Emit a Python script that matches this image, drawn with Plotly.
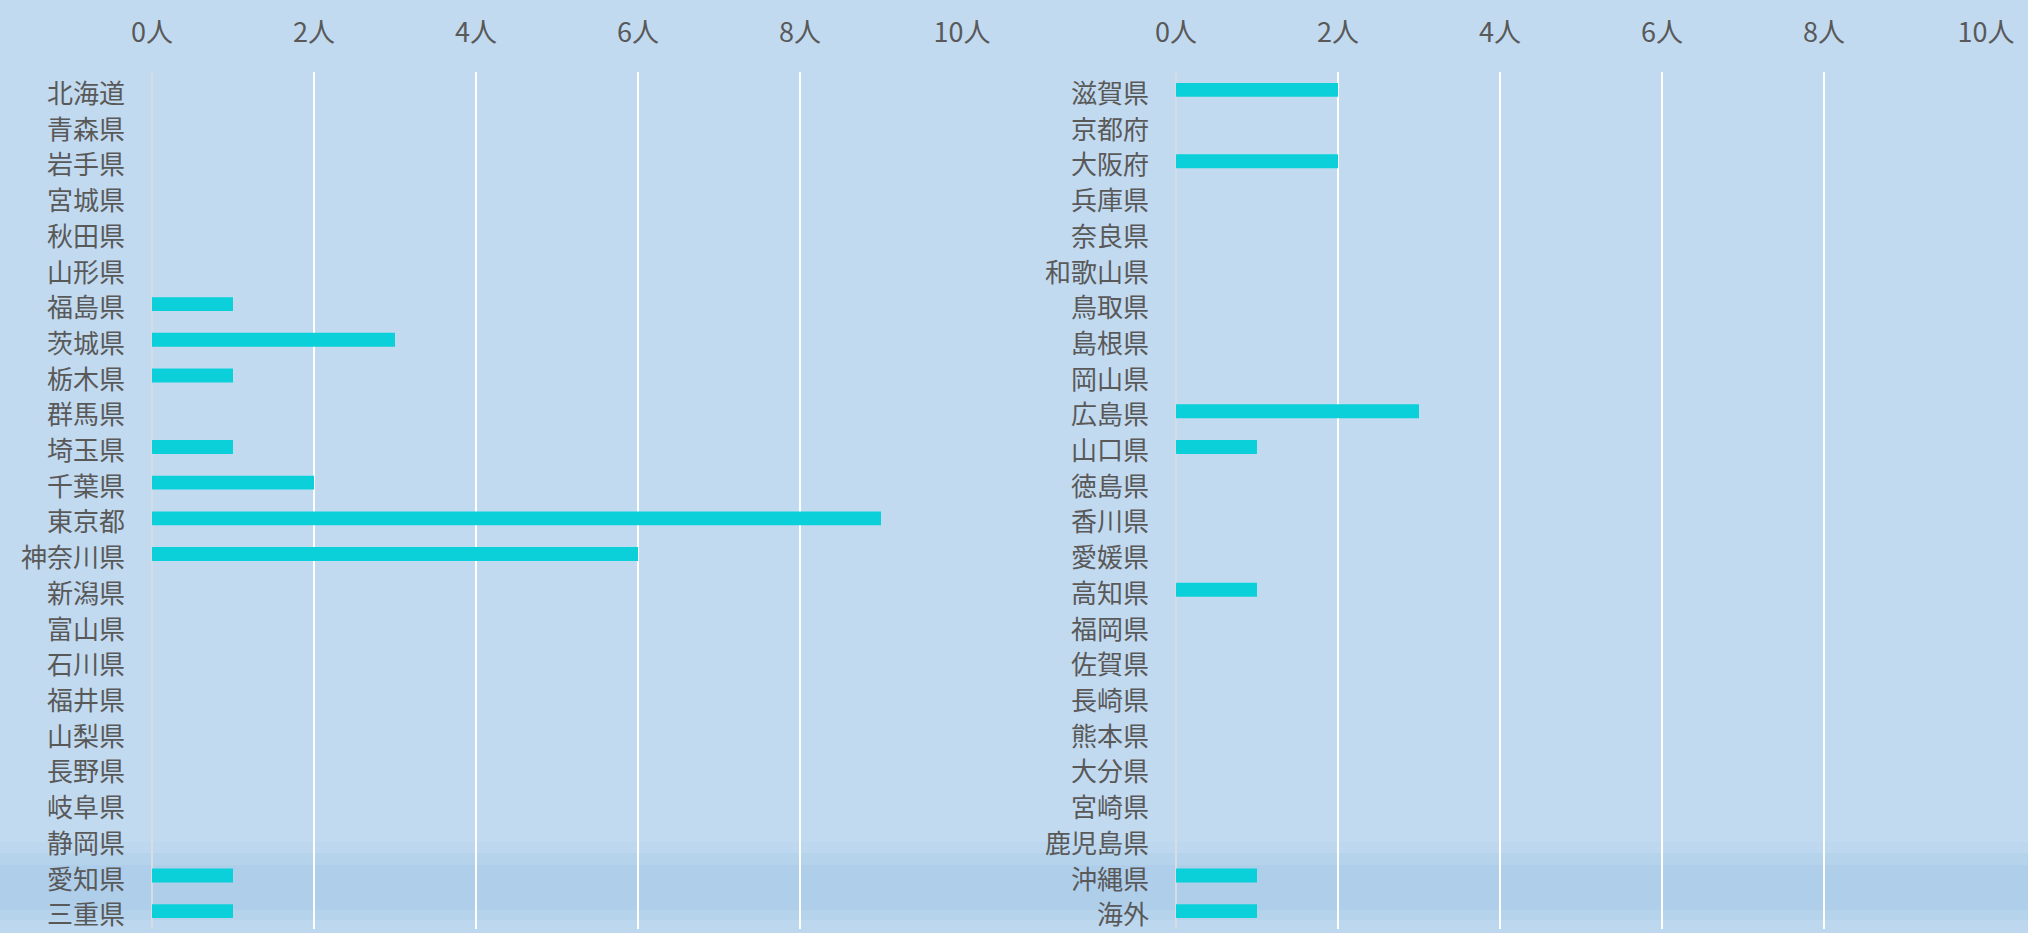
import plotly.graph_objects as go
from plotly.subplots import make_subplots

# 都道府県別 人数
pref_left = ['北海道', '青森県', '岩手県', '宮城県', '秋田県', '山形県', '福島県', '茨城県',
             '栃木県', '群馬県', '埼玉県', '千葉県', '東京都', '神奈川県', '新潟県', '富山県',
             '石川県', '福井県', '山梨県', '長野県', '岐阜県', '静岡県', '愛知県', '三重県']
count_left = [0, 0, 0, 0, 0, 0, 1, 3, 1, 0, 1, 2, 9, 6, 0, 0, 0, 0, 0, 0, 0, 0, 1, 1]

pref_right = ['滋賀県', '京都府', '大阪府', '兵庫県', '奈良県', '和歌山県', '鳥取県', '島根県',
              '岡山県', '広島県', '山口県', '徳島県', '香川県', '愛媛県', '高知県', '福岡県',
              '佐賀県', '長崎県', '熊本県', '大分県', '宮崎県', '鹿児島県', '沖縄県', '海外']
count_right = [2, 0, 2, 0, 0, 0, 0, 0, 0, 3, 1, 0, 0, 0, 1, 0, 0, 0, 0, 0, 0, 0, 1, 1]

tick_vals = [0, 2, 4, 6, 8, 10]
tick_text = ['0人', '2人', '4人', '6人', '8人', '10人']

BAR = '#0BD0D9'
TEXT = '#595959'
BG = '#C2DAF0'
W, H = 2028, 933

fig = make_subplots(rows=1, cols=2)

for col, (cats, vals) in enumerate([(pref_left, count_left), (pref_right, count_right)], start=1):
    fig.add_trace(go.Bar(
        y=cats, x=vals, orientation='h', width=0.39,
        marker=dict(color=BAR, line=dict(width=0)),
        hovertemplate='%{y}: %{x}人<extra></extra>',
        showlegend=False,
    ), row=1, col=col)

axis_x = dict(
    range=[0, 10], side='top', tickvals=tick_vals, ticktext=tick_text,
    showgrid=True, gridcolor='white', gridwidth=1.5,
    zeroline=True, zerolinecolor='#D6DCE4', zerolinewidth=1.5,
    showline=False, ticks='', ticklabelstandoff=24, automargin=False,
    tickfont=dict(size=27, color=TEXT),
)
axis_y = dict(
    autorange='reversed', showgrid=False, showline=False, ticks='',
    ticklabelstandoff=26, ticklabelshift=-4, automargin=False,
    tickfont=dict(size=26, color=TEXT), domain=[1 - 929 / H, 1 - 72 / H],
)
fig.update_xaxes(axis_x)
fig.update_yaxes(axis_y)
fig.update_xaxes(domain=[152 / W, 962 / W], row=1, col=1)
fig.update_xaxes(domain=[1176 / W, 1986 / W], row=1, col=2)

# 下部の淡いグラデーション帯
bands = [(842, 853, '#BDD7EE'), (853, 865, '#B6D3EC'), (865, 910, '#AFCEEA'),
         (910, 920, '#B6D3EC'), (920, 933, '#BDD7EE')]
shapes = []
for y0, y1, c in bands:
    shapes.append(dict(type='rect', xref='paper', yref='paper', x0=0, x1=1,
                       y0=1 - y1 / H, y1=1 - y0 / H, fillcolor=c,
                       line=dict(width=0), layer='below'))

fig.update_layout(
    width=W, height=H,
    paper_bgcolor=BG, plot_bgcolor='rgba(0,0,0,0)',
    font=dict(family='Noto Sans CJK JP, Noto Sans, sans-serif', color=TEXT),
    margin=dict(l=0, r=0, t=0, b=0, pad=0),
    bargap=0.6,
    shapes=shapes,
)

# ページの余白を消してウィンドウいっぱいに表示
fig.write_html('out.html', config={'displayModeBar': False},
               post_script="document.body.style.margin='0';document.body.style.overflow='hidden';")
